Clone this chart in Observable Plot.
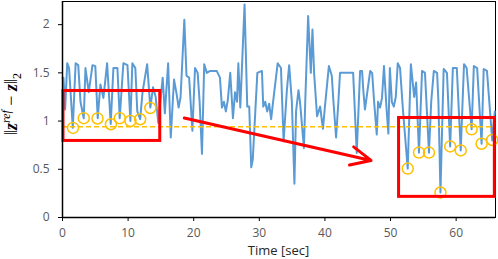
<!DOCTYPE html>
<html><head><meta charset="utf-8">
<script src="https://cdn.jsdelivr.net/npm/d3@7"></script>
<script src="https://cdn.jsdelivr.net/npm/@observablehq/plot@0.6"></script>
<style>body{margin:0;background:#fff}</style>
</head><body><div id="chart"></div>
<script>
// Blue series (time in seconds, error norm)
const times = [0,0.15,0.4,0.72,1.0,1.57,2.0,2.4,2.74,3.24,3.5,4.0,4.57,5.0,5.37,5.78,6.24,6.8,7.35,7.76,8.37,8.72,9.28,9.9,10.35,10.65,11.1,11.4,11.84,12.2,12.9,13.39,13.8,14.2,14.6,15.27,15.6,16.1,16.5,17.0,17.4,17.7,18.0,18.57,18.9,19.3,19.8,20.2,20.6,20.9,21.26,21.6,22.0,22.5,23.5,24.0,24.3,24.6,24.9,25.2,25.57,25.98,26.3,26.6,26.8,27.1,27.75,28.16,28.46,28.77,29.0,29.7,30.4,30.6,30.9,31.2,31.5,31.8,32.1,32.8,33.3,33.7,34.2,34.55,34.96,35.35,35.6,35.97,36.2,36.8,37.0,37.44,37.85,38.1,38.35,38.8,39.27,39.7,40.0,40.6,41.05,41.25,41.7,42.05,42.3,44.3,44.85,45.36,45.66,45.86,46.1,46.9,47.2,47.5,47.9,48.1,48.4,48.7,49.0,49.4,49.67,49.9,50.2,50.5,50.8,51.1,51.45,51.9,52.62,53.1,53.6,53.9,54.34,54.8,55.25,55.86,56.2,56.6,57.1,57.3,57.61,58.1,58.6,59.09,59.5,60.1,60.7,61.2,61.6,62.36,62.7,63.2,63.88,64.2,64.7,65.5,65.9];
const values = [1.45,1.45,1.12,1.6,1.55,0.93,1.6,1.58,1.2,1.03,1.55,1.3,1.58,1.57,1.03,1.38,1.24,1.6,0.97,1.55,1.55,1.03,1.6,1.58,1.0,1.6,1.55,1.1,1.02,1.3,1.59,1.14,1.35,1.25,0.98,1.45,1.08,1.6,0.83,1.43,1.28,1.14,1.25,2.05,1.47,1.45,0.9,1.55,1.5,1.2,0.66,1.59,1.5,1.52,1.52,1.45,1.14,1.2,1.1,1.22,1.5,1.03,1.3,1.2,1.6,1.14,2.21,1.15,1.15,0.52,0.6,1.5,1.52,1.15,1.2,1.1,1.18,1.02,1.2,1.6,1.55,0.79,1.32,1.58,1.2,0.35,1.1,1.32,1.2,0.72,1.2,2.09,1.5,1.95,1.5,1.05,1.15,0.92,1.15,1.57,1.47,1.25,0.83,1.2,1.5,1.5,0.67,1.52,1.52,1.31,1.12,1.52,1.5,1.2,0.86,1.2,1.14,1.24,1.57,1.12,0.87,1.55,1.2,1.15,1.25,1.6,1.55,1.11,0.507,1.59,1.25,1.4,0.673,1.52,1.5,0.673,1.2,1.52,1.5,1.2,0.259,1.54,1.5,0.737,1.55,1.55,0.696,1.59,1.55,0.915,1.57,1.55,0.765,1.54,1.52,0.80,1.1];

// Highlighted minima (orange circles)
const circleTimes = [1.6,3.24,5.33,7.38,8.72,10.35,11.84,13.39,52.62,54.34,55.86,57.61,59.09,60.7,62.36,63.88,65.5];
const circleValues = [0.929,1.03,1.027,0.967,1.03,1.001,1.019,1.136,0.507,0.673,0.673,0.259,0.737,0.696,0.915,0.765,0.804];

// Dashed threshold
const thresholdValue = 0.942;

// Red boxes
const boxX1 = [0.15, 51.3];
const boxX2 = [14.9, 65.9];
const boxY1 = [0.794, 0.214];
const boxY2 = [1.312, 1.032];

// Red arrow
const arrowStart = [18.57, 1.032];
const arrowEnd = [47.03, 0.592];

const xTicks = [0,10,20,30,40,50,60];
const yTicks = [0,0.5,1,1.5,2];
const xLabel = "Time [sec]";

const series = times.map((t,i)=>({t, v: values[i]}));
const circles = circleTimes.map((t,i)=>({t, v: circleValues[i]}));
const boxes = boxX1.map((x1,i)=>({x1, x2: boxX2[i], y1: boxY1[i], y2: boxY2[i]}));
const arrows = [{x1: arrowStart[0], y1: arrowStart[1], x2: arrowEnd[0], y2: arrowEnd[1]}];

const plot = Plot.plot({
  width: 498, height: 259,
  marginLeft: 62, marginRight: 3, marginTop: 1, marginBottom: 42,
  style: {fontFamily: "Open Sans", fontSize: "12px", color: "#595959", background: "#fff", overflow: "visible"},
  x: {domain: [0, 66]},
  y: {domain: [0, 2.24]},
  marks: [
    Plot.axisX({ticks: xTicks, tickSize: 4, tickPadding: 7, label: null, stroke: "#000", fill: "#595959", tickFormat: d => String(d)}),
    Plot.axisY({ticks: yTicks, tickSize: 4, tickPadding: 9, label: null, stroke: "#000", fill: "#595959", tickFormat: d => String(d)}),
    Plot.frame({stroke: "#000", strokeWidth: 1}),
    Plot.line(series, {x: "t", y: "v", stroke: "#5B9BD5", strokeWidth: 2, strokeLinejoin: "round"}),
    Plot.ruleY([thresholdValue], {stroke: "#FFC000", strokeWidth: 1.5, strokeDasharray: "5,3"}),
    Plot.dot(circles, {x: "t", y: "v", r: 5.5, stroke: "#FFC000", strokeWidth: 1.5, fill: "none"}),
    Plot.rect(boxes, {x1: "x1", x2: "x2", y1: "y1", y2: "y2", stroke: "#FF0000", strokeWidth: 3, fill: "none"}),
    Plot.arrow(arrows, {x1: "x1", y1: "y1", x2: "x2", y2: "y2", stroke: "#FF0000", strokeWidth: 3, headLength: 11, headAngle: 50}),
    Plot.ruleX([0], {stroke: "#000", strokeWidth: 1.5}),
    Plot.ruleY([0], {stroke: "#000", strokeWidth: 1.5})
  ]
});

document.getElementById("chart").appendChild(plot);

const svg = d3.select(plot);
svg.append("text")
  .attr("x", 278.5).attr("y", 254.5)
  .attr("text-anchor", "middle")
  .attr("font-family", "Open Sans").attr("font-size", 13)
  .attr("fill", "#262626")
  .text(xLabel);

const lab = svg.append("text")
  .attr("transform", "translate(17,104) rotate(-90)")
  .attr("text-anchor", "middle")
  .attr("font-family", "Liberation Serif").attr("font-size", 18)
  .attr("fill", "#000");
lab.append("tspan").text("‖");
lab.append("tspan").attr("font-weight", "bold").attr("font-style", "italic").text("z");
lab.append("tspan").attr("font-style", "italic").attr("font-size", 12).attr("dy", -7).text("ref");
lab.append("tspan").attr("dy", 7).text(" − ");
lab.append("tspan").attr("font-weight", "bold").attr("font-style", "italic").text("z");
lab.append("tspan").text("‖");
lab.append("tspan").attr("font-size", 12).attr("dy", 4).text("2");
</script>
</body></html>
